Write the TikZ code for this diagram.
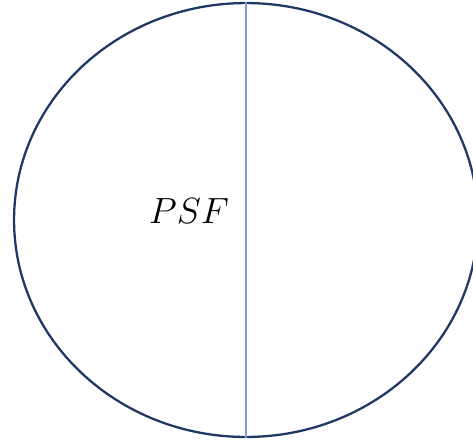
\documentclass[tikz,border=0pt]{standalone}
\usetikzlibrary{shapes.geometric}
\definecolor{clrRim}{HTML}{1F3864}
\definecolor{clrSplit}{HTML}{7F9FD6}

\begin{document}
\begin{tikzpicture}[
  x=0.02cm, y=-0.02cm,
  rim/.style = {
    ellipse,
    draw=clrRim,
    line width=1.3pt,
    minimum width=9.28cm,
    minimum height=8.68cm,
    inner sep=0pt
  },
  split/.style = {
    draw=clrSplit,
    line width=0.6pt
  },
  tag/.style = {
    font=\fontsize{22}{26}\selectfont
  }
]
\useasboundingbox (0,0) rectangle (473,441);

% ── nodes ────────────────────────────────────────────────────────────────────
\node[rim] (psf) at (246,220) {};
\node[tag] (psflabel) at (189,211) {$PSF$};

% ── divider ──────────────────────────────────────────────────────────────────
\draw[split] (psf.north) -- (psf.south);

\end{tikzpicture}
\end{document}
